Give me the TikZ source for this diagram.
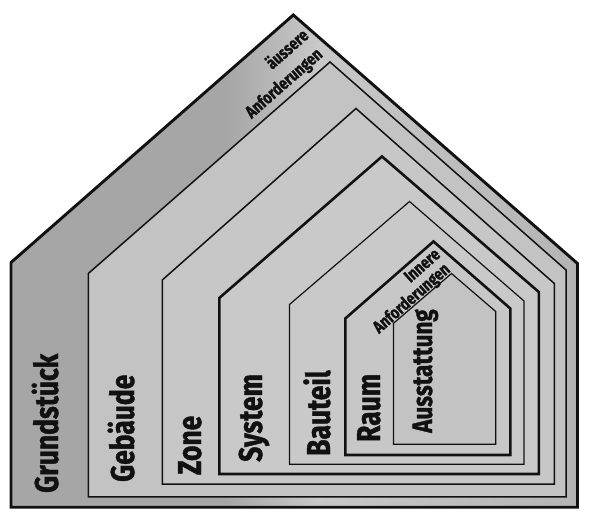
\documentclass[tikz,border=0pt]{standalone}
\usepackage{fontspec}
\newfontfamily\lblfont{Fira Sans}[FakeStretch=0.8, FakeBold=1.2]
\definecolor{oL}{HTML}{A6A6A6}
\definecolor{oM}{HTML}{C8C8C8}
\definecolor{oR}{HTML}{B4B4B4}
\definecolor{fA}{HTML}{C3C3C3}
\definecolor{fB}{HTML}{C7C7C7}
\definecolor{fC}{HTML}{C9C9C9}
\definecolor{ink}{HTML}{111111}
\pgfdeclarehorizontalshading{outsh}{100bp}{color(0bp)=(oL); color(25bp)=(oL); color(44bp)=(oL); color(52bp)=(oM); color(75bp)=(oR); color(100bp)=(oR)}
\tikzset{
  thickline/.style={draw=ink, line width=2.6pt, line join=miter},
  thinline/.style={draw=ink, line width=1.3pt, line join=miter},
  biglabel/.style={font=\lblfont\bfseries\fontsize{33}{33}\selectfont, text=ink, rotate=90, anchor=base west, inner sep=0pt},
  midlabel/.style={font=\lblfont\bfseries\fontsize{28}{28}\selectfont, text=ink, rotate=90, anchor=base west, inner sep=0pt},
  smalllabel/.style={font=\lblfont\bfseries\fontsize{17.5}{17.5}\selectfont, text=ink, rotate=41.2, anchor=center, inner sep=0pt},
}
\begin{document}
\begin{tikzpicture}[x=1pt,y=-1pt]
\useasboundingbox (0,0) rectangle (614,521);
\fill[white] (0,0) rectangle (614,521);
% Grundstueck (outer)
\shade[shading=outsh] (11,507.3) -- (11,262.5) -- (293.3,15) -- (577.5,263.5) -- (577.5,507.3) -- cycle;
\draw[thickline, line width=2.9pt] (11,507.3) -- (11,262.5) -- (293.3,15) -- (577.5,263.5) -- (577.5,507.3) -- cycle;
% Gebaeude
\filldraw[thinline, fill=fA, line width=1.5pt] (88.3,496.8) -- (88.3,273.5) -- (330,62) -- (566,270) -- (566,496.8) -- cycle;
% Zone
\filldraw[thinline, fill=fB, line width=1.5pt] (162.3,484.2) -- (162.3,280) -- (356,108.5) -- (554.3,283.5) -- (554.3,484.2) -- cycle;
% System
\filldraw[thickline, fill=fC] (219.3,474) -- (219.3,298) -- (382,156.5) -- (538.8,292) -- (538.8,474) -- cycle;
% Bauteil
\filldraw[thinline, fill=fC, line width=1.2pt] (289.5,464.3) -- (289.5,304.5) -- (409.5,201.5) -- (524,301) -- (524,464.3) -- cycle;
% Raum
\filldraw[thickline, fill=fB] (345.3,455) -- (345.3,318.5) -- (433.5,241.5) -- (510.3,308.5) -- (510.3,455) -- cycle;
% Ausstattung
\filldraw[thinline, fill=fA, line width=1.2pt] (393.5,444.3) -- (393.5,323.3) -- (451.5,273.5) -- (495.7,311.5) -- (495.7,444.3) -- cycle;

% labels
\node[biglabel] (grund) at (58,493) {Grundstück};
\node[biglabel] (geb) at (134,482) {Gebäude};
\node[biglabel] (zone) at (201,475) {Zone};
\node[biglabel] (sys) at (262,462) {System};
\node[biglabel] (bau) at (330,456) {Bauteil};
\node[biglabel] (raum) at (380,442) {Raum};
\node[midlabel] (aus) at (432,433) {Ausstattung};

\node[smalllabel] (aeuss) at (286.5,48.5) {äussere};
\node[smalllabel] (anf1) at (284.5,84) {Anforderungen};
\node[smalllabel] (inn) at (422,265.3) {Innere};
\node[smalllabel] (anf2) at (412,299) {Anforderungen};
\end{tikzpicture}
\end{document}
